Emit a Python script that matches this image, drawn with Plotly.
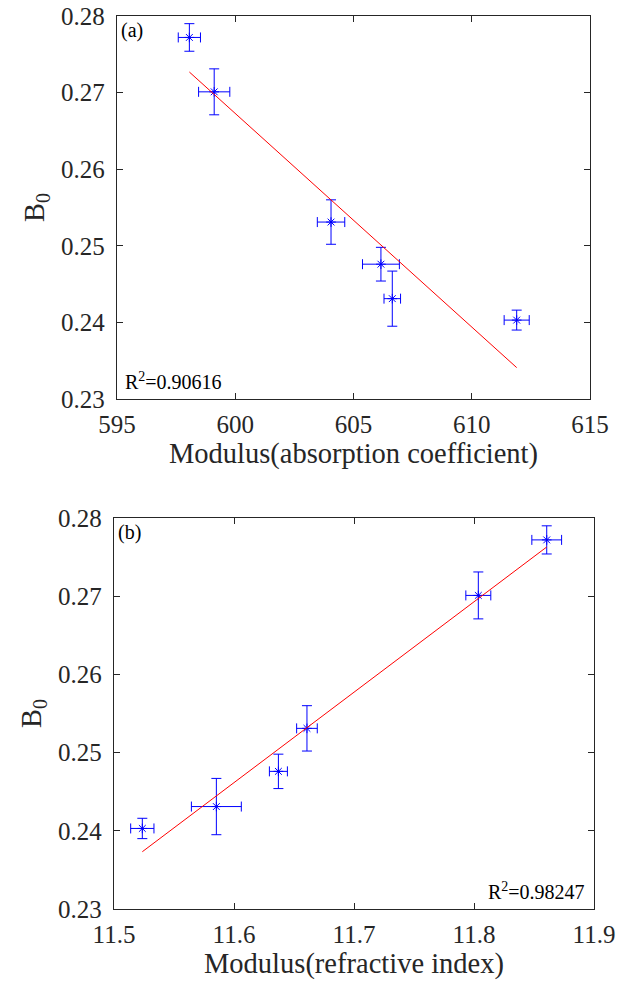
import numpy as np
import plotly.graph_objects as go

# ---- data ----
B0 = [0.2772, 0.2701, 0.2531, 0.2476, 0.2431, 0.2403]
B0_err = [0.0018, 0.0030, 0.0029, 0.0022, 0.0036, 0.0013]
abs_mod = [598.06, 599.11, 604.05, 606.16, 606.64, 611.90]
abs_err = [0.47, 0.66, 0.58, 0.78, 0.35, 0.53]
ref_mod = [11.8606, 11.8036, 11.6608, 11.6370, 11.5853, 11.5236]
ref_err = [0.0124, 0.0104, 0.0086, 0.0075, 0.0208, 0.0097]
r2_abs = "0.90616"
r2_ref = "0.98247"
x_ticks_abs = [595, 600, 605, 610, 615]
x_ticks_ref = [11.5, 11.6, 11.7, 11.8, 11.9]
y_ticks = [0.23, 0.24, 0.25, 0.26, 0.27, 0.28]

FONT = "Liberation Serif, Times New Roman, serif"
BLUE = "#0000ff"
AX = "#262626"

fig = go.Figure()


def add_panel(x, xerr, xref, yref):
    fig.add_trace(go.Scatter(
        x=x, y=B0, mode="markers",
        marker=dict(symbol="asterisk-open", size=8, color=BLUE,
                    line=dict(color=BLUE, width=1)),
        error_x=dict(type="data", array=xerr, visible=True, color=BLUE,
                     thickness=1, width=5),
        error_y=dict(type="data", array=B0_err, visible=True, color=BLUE,
                     thickness=1, width=5),
        xaxis=xref, yaxis=yref, showlegend=False, hoverinfo="skip"))
    k, b = np.polyfit(x, B0, 1)
    xs = [min(x), max(x)]
    fig.add_trace(go.Scatter(
        x=xs, y=[k * v + b for v in xs], mode="lines",
        line=dict(color="#ff0000", width=1),
        xaxis=xref, yaxis=yref, showlegend=False, hoverinfo="skip"))


add_panel(abs_mod, abs_err, "x", "y")
add_panel(ref_mod, ref_err, "x2", "y2")

axis_common = dict(
    showline=True, linecolor=AX, linewidth=1.4, mirror="ticks",
    ticks="inside", ticklen=6, tickwidth=1.2, tickcolor=AX,
    showgrid=False, zeroline=False, automargin=False,
    tickfont=dict(family=FONT, size=25, color=AX),
)
title_font = dict(family=FONT, size=28.5, color=AX)

fig.update_layout(
    width=622, height=984,
    font=dict(family=FONT, color=AX),
    margin=dict(l=0, r=0, t=0, b=0),
    paper_bgcolor="white", plot_bgcolor="white",
    xaxis=dict(domain=[117 / 622, 590 / 622], range=[595, 615],
               tickvals=x_ticks_abs, anchor="y",
               title=dict(text="Modulus(absorption coefficient)",
                          font=title_font, standoff=3),
               ticklabelstandoff=3, **axis_common),
    yaxis=dict(domain=[1 - 399 / 984, 1 - 16 / 984], range=[0.23, 0.28],
               tickvals=y_ticks, tickformat=".2f", anchor="x",
               title=dict(text="B<sub>0</sub>", font=title_font, standoff=8),
               ticklabelstandoff=6, **axis_common),
    xaxis2=dict(domain=[114 / 622, 594 / 622], range=[11.5, 11.9],
                tickvals=x_ticks_ref, tickformat=".1f", anchor="y2",
                title=dict(text="Modulus(refractive index)",
                           font=title_font, standoff=1),
                ticklabelstandoff=3, **axis_common),
    yaxis2=dict(domain=[1 - 909 / 984, 1 - 518 / 984], range=[0.23, 0.28],
                tickvals=y_ticks, tickformat=".2f", anchor="x2",
                title=dict(text="B<sub>0</sub>", font=title_font, standoff=8),
                ticklabelstandoff=6, **axis_common),
)

ann_font = dict(family=FONT, size=20, color="#000000")
fig.add_annotation(text="(a)", xref="x domain", yref="y domain", x=0.005, y=0.998,
                   xanchor="left", yanchor="top", showarrow=False, font=ann_font)
fig.add_annotation(text="R<sup>2</sup>=" + r2_abs, xref="x domain", yref="y domain",
                   x=0.012, y=0.01, xanchor="left", yanchor="bottom",
                   showarrow=False, font=ann_font)
fig.add_annotation(text="(b)", xref="x2 domain", yref="y2 domain", x=0.005, y=0.998,
                   xanchor="left", yanchor="top", showarrow=False, font=ann_font)
fig.add_annotation(text="R<sup>2</sup>=" + r2_ref, xref="x2 domain", yref="y2 domain",
                   x=0.985, y=0.01, xanchor="right", yanchor="bottom",
                   showarrow=False, font=ann_font)

fig.write_html("out.html",
               config={"displayModeBar": False},
               post_script="document.body.style.margin='0px';"
                           "document.body.style.padding='0px';")
